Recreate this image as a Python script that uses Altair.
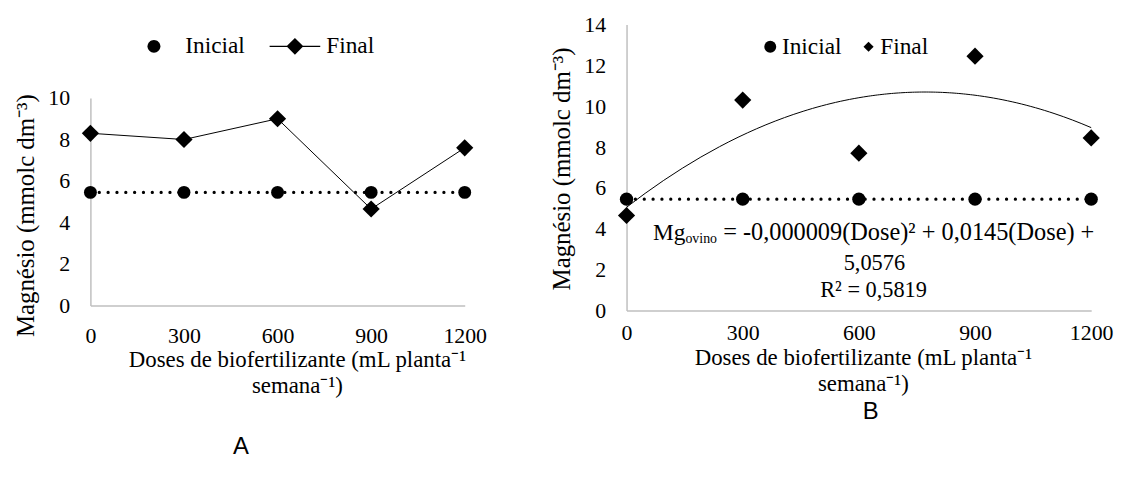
import altair as alt
import pandas as pd

# ---------------- data ----------------
doses = [0, 300, 600, 900, 1200]
series = ["Inicial", "Final"]

a_inicial = [5.45, 5.45, 5.45, 5.45, 5.45]
a_final = [8.3, 8.0, 9.0, 4.65, 7.6]

b_inicial = [5.45, 5.45, 5.45, 5.45, 5.45]
b_final = [4.65, 10.3, 7.7, 12.45, 8.45]

x_ticks = [0, 300, 600, 900, 1200]
a_y_ticks = [0, 2, 4, 6, 8, 10]
b_y_ticks = [0, 2, 4, 6, 8, 10, 12, 14]

x_title = ["Doses de biofertilizante (mL planta\u207b\u00b9", "semana\u207b\u00b9)"]
y_title = "Magnésio (mmolc dm\u207b\u00b3)"

eq_mg = "Mg"
eq_sub = "ovino"
eq_rest = "= -0,000009(Dose)² + 0,0145(Dose) +"
eq_line2 = "5,0576"
eq_line3 = "R² = 0,5819"

# annotation anchors (data coordinates of panel B)
eq_anchor = {"dose": 152, "valor": 3.8}
eq2_anchor = {"dose": 640, "valor": 2.33}
eq3_anchor = {"dose": 638, "valor": 1.02}

# ---------------- tables ----------------
dfA = pd.DataFrame({
    "dose": doses * 2,
    "valor": a_inicial + a_final,
    "serieA": ["Inicial"] * len(doses) + ["Final"] * len(doses),
})
dfB = pd.DataFrame({
    "dose": doses * 2,
    "valor": b_inicial + b_final,
    "serieB": ["Inicial"] * len(doses) + ["Final"] * len(doses),
})

FONT = "Liberation Serif"
BLACK = "black"

axis_common = dict(
    domainColor="#BFBFBF", domainWidth=1.5, ticks=False, tickSize=0, grid=False,
    labelFont=FONT, labelFontSize=22, labelColor=BLACK, labelFlush=False,
    labelOverlap=False, labelBound=False,
    titleFont=FONT, titleColor=BLACK, titleFontWeight="normal",
)

# ---------------- panel A ----------------
xA = alt.X("dose:Q", scale=alt.Scale(domain=[0, 1200], nice=False, zero=False),
           axis=alt.Axis(values=x_ticks, offset=-5, labelPadding=20, format="d",
                         title=x_title, titleFontSize=23, titleX=208, titleY=61,
                         titleAlign="center", titleBaseline="alphabetic",
                         titleLineHeight=27, **axis_common))
yA = alt.Y("valor:Q", scale=alt.Scale(domain=[0, 10], range=[283, 74], nice=False, zero=False),
           axis=alt.Axis(values=a_y_ticks, labelPadding=21, title=y_title,
                         titleFontSize=25, titleX=-65, titleY=192, titleAngle=270,
                         titleAlign="center", titleBaseline="middle", **axis_common))

baseA = alt.Chart(dfA)
a_dotted = baseA.transform_filter(alt.datum.serieA == "Inicial").mark_line(
    color=BLACK, strokeWidth=3.2, strokeCap="round", strokeDash=[0.1, 8.8]
).encode(x=xA, y=yA)
a_line = baseA.transform_filter(alt.datum.serieA == "Final").mark_line(
    color=BLACK, strokeWidth=1
).encode(x=xA, y=yA)
a_circ = baseA.transform_filter(alt.datum.serieA == "Inicial").mark_point(
    shape="circle", filled=True, size=169, color=BLACK, opacity=1
).encode(x=xA, y=yA)
a_diam = baseA.transform_filter(alt.datum.serieA == "Final").mark_point(
    shape="diamond", filled=True, size=300, color=BLACK, opacity=1
).encode(x=xA, y=yA)

circ_path_A = "M-0.255,0A0.255,0.255,0,1,0,0.255,0A0.255,0.255,0,1,0,-0.255,0Z"
fin_path_A = ("M-1,-0.02L1,-0.02L1,0.02L-1,0.02Z"
              "M0,-0.333L0.333,0L0,0.333L-0.333,0Z")
a_leg = baseA.mark_point(filled=True, color=BLACK, opacity=0).encode(
    x=xA, y=yA,
    shape=alt.Shape("serieA:N",
                    scale=alt.Scale(domain=series, range=[circ_path_A, fin_path_A]),
                    legend=alt.Legend(orient="none", legendX=38.5, legendY=-3.5,
                                      direction="horizontal", title=None,
                                      symbolSize=2601, labelOffset=6, columnPadding=24,
                                      padding=0, rowPadding=0,
                                      labelFont=FONT, labelFontSize=23.5, labelColor=BLACK,
                                      symbolFillColor=BLACK, symbolStrokeWidth=0,
                                      symbolOpacity=1)),
)

panelA = alt.layer(a_dotted, a_line, a_circ, a_diam, a_leg).properties(
    width=377, height=288,
    title=alt.TitleParams("A", orient="bottom", anchor="middle", frame="group",
                          dx=-37, offset=38, font="Liberation Sans", fontSize=24,
                          fontWeight="normal", color=BLACK),
)

# ---------------- panel B ----------------
xB = alt.X("dose:Q", scale=alt.Scale(domain=[0, 1200], nice=False, zero=False),
           axis=alt.Axis(values=x_ticks, labelPadding=12, format="d",
                         title=x_title, titleFontSize=23, titleX=238, titleY=54,
                         titleAlign="center", titleBaseline="alphabetic",
                         titleLineHeight=27, **axis_common))
yB = alt.Y("valor:Q", scale=alt.Scale(domain=[0, 14], nice=False, zero=False),
           axis=alt.Axis(values=b_y_ticks, labelPadding=21, title=y_title,
                         titleFontSize=25, titleX=-65, titleY=145, titleAngle=270,
                         titleAlign="center", titleBaseline="middle", **axis_common))

baseB = alt.Chart(dfB)
b_dotted = baseB.transform_filter(alt.datum.serieB == "Inicial").mark_line(
    color=BLACK, strokeWidth=3.2, strokeCap="round", strokeDash=[0.1, 8.8]
).encode(x=xB, y=yB)
b_trend = baseB.transform_filter(alt.datum.serieB == "Final").transform_regression(
    "dose", "valor", method="poly", order=2
).mark_line(color=BLACK, strokeWidth=1).encode(x=xB, y=yB)
b_circ = baseB.transform_filter(alt.datum.serieB == "Inicial").mark_point(
    shape="circle", filled=True, size=180, color=BLACK, opacity=1
).encode(x=xB, y=yB)
b_diam = baseB.transform_filter(alt.datum.serieB == "Final").mark_point(
    shape="diamond", filled=True, size=300, color=BLACK, opacity=1
).encode(x=xB, y=yB)

diam_path_B = "M0,-0.85L0.85,0L0,0.85L-0.85,0Z"
b_leg = baseB.mark_point(filled=True, color=BLACK, opacity=0).encode(
    x=xB, y=yB,
    shape=alt.Shape("serieB:N",
                    scale=alt.Scale(domain=series, range=["circle", diam_path_B]),
                    legend=alt.Legend(orient="none", legendX=133, legendY=10.25,
                                      direction="horizontal", title=None,
                                      symbolSize=144, labelOffset=0, columnPadding=15,
                                      padding=0, rowPadding=0,
                                      labelFont=FONT, labelFontSize=23.5, labelColor=BLACK,
                                      symbolFillColor=BLACK, symbolStrokeWidth=0,
                                      symbolOpacity=1)),
)

eq1 = pd.DataFrame([{**eq_anchor, "mg": eq_mg, "sub": eq_sub, "rest": eq_rest}])
eq2 = pd.DataFrame([{**eq2_anchor, "t": eq_line2}])
eq3 = pd.DataFrame([{**eq3_anchor, "t": eq_line3}])

txt_kw = dict(font=FONT, color=BLACK, baseline="middle")
b_mg = alt.Chart(eq1).mark_text(align="right", fontSize=23.5, **txt_kw).encode(
    x=xB, y=yB, text="mg:N")
b_sub = alt.Chart(eq1).mark_text(align="left", dy=6, fontSize=14, **txt_kw).encode(
    x=xB, y=yB, text="sub:N")
b_rest = alt.Chart(eq1).mark_text(align="left", dx=38, fontSize=24.5, **txt_kw).encode(
    x=xB, y=yB, text="rest:N")
b_l2 = alt.Chart(eq2).mark_text(align="center", fontSize=22.5, **txt_kw).encode(
    x=xB, y=yB, text="t:N")
b_l3 = alt.Chart(eq3).mark_text(align="center", fontSize=22.5, **txt_kw).encode(
    x=xB, y=yB, text="t:N")

panelB = alt.layer(b_dotted, b_trend, b_circ, b_diam, b_leg, b_mg, b_sub, b_rest, b_l2, b_l3).properties(
    width=468, height=288,
    title=alt.TitleParams("B", orient="bottom", anchor="middle", frame="group",
                          dx=12, offset=4, font="Liberation Sans", fontSize=24,
                          fontWeight="normal", color=BLACK),
)

chart = alt.hconcat(panelA, panelB, spacing=163, bounds="flush").resolve_scale(
    shape="independent"
).resolve_legend(shape="independent").properties(
    padding={"left": 6, "top": 4, "right": 5, "bottom": 5},
    background="white",
).configure(font=FONT).configure_view(stroke=None)

chart.save("out.html", embed_options={"renderer": "svg", "actions": False})
